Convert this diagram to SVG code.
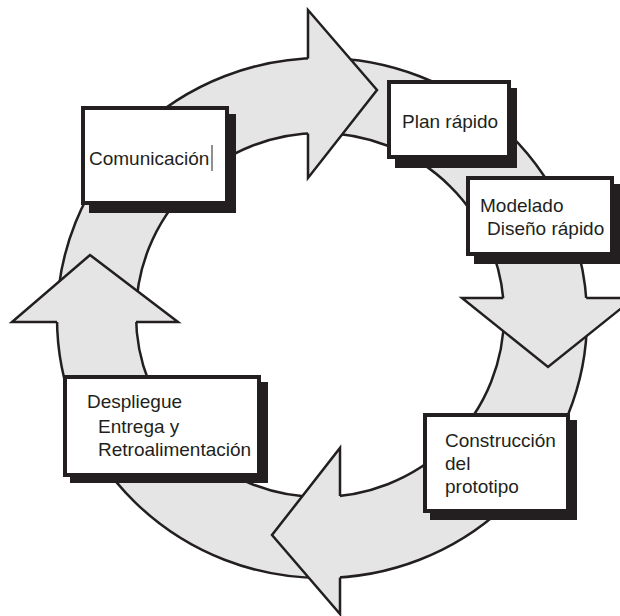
<svg xmlns="http://www.w3.org/2000/svg" width="620" height="616" viewBox="0 0 620 616">
  <style>
    .ring { fill: #e5e5e5; fill-rule: evenodd; stroke: #231f20; stroke-width: 2.5; }
    .head { fill: #e5e5e5; stroke: none; }
    .edge { fill: none; stroke: #231f20; stroke-width: 2.5; stroke-linejoin: miter; stroke-miterlimit: 10; }
    .shadow { fill: #231f20; }
    .box { fill: #ffffff; stroke: #231f20; stroke-width: 4; }
    .label { font-family: "Liberation Sans", Arial, sans-serif; font-size: 19px; fill: #231f20; }
  </style>
  <rect width="620" height="616" fill="#ffffff"/>
  <g id="connectors">
    <path class="ring" d="M 57 318 A 265 260 0 1 0 587 318 A 265 260 0 1 0 57 318 Z M 136 315 A 184 182 0 1 0 504 315 A 184 182 0 1 0 136 315 Z"/>
    <!-- top arrow head (pointing right) -->
    <polygon class="head" points="308,10 377,90 308,178"/>
    <path class="edge" d="M 308 58.4 L 308 10 L 377 90 L 308 178 L 308 133.4"/>
    <!-- right arrow head (pointing down) -->
    <polygon class="head" points="634,298 548,367 462,298"/>
    <path class="edge" d="M 586.2 298 L 634 298 L 548 367 L 462 298 L 503.2 298"/>
    <!-- bottom arrow head (pointing left) -->
    <polygon class="head" points="340,448 272,535 340,614"/>
    <path class="edge" d="M 340 495.9 L 340 448 L 272 535 L 340 614 L 340 577.4"/>
    <!-- left arrow head (pointing up) -->
    <polygon class="head" points="12,322 90,255 178,322"/>
    <path class="edge" d="M 57 322 L 12 322 L 90 255 L 178 322 L 136 322"/>
  </g>
  <g id="comunicacion">
    <rect class="shadow" x="89" y="114" width="147" height="99"/>
    <rect class="box" x="83" y="108" width="144" height="95"/>
    <text class="label" x="89" y="165">Comunicación</text>
    <line x1="212" y1="145" x2="212" y2="171" stroke="#231f20" stroke-width="1"/>
  </g>
  <g id="plan-rapido">
    <rect class="shadow" x="395" y="88" width="122" height="80"/>
    <rect class="box" x="389" y="82" width="120" height="75"/>
    <text class="label" x="402" y="128">Plan rápido</text>
  </g>
  <g id="modelado">
    <rect class="shadow" x="474" y="184" width="146" height="80"/>
    <rect class="box" x="468" y="178" width="144" height="76"/>
    <text class="label" x="480" y="212">Modelado</text>
    <text class="label" x="487" y="235">Diseño rápido</text>
  </g>
  <g id="despliegue">
    <rect class="shadow" x="70" y="382" width="198" height="101"/>
    <rect class="box" x="65" y="377" width="194" height="98"/>
    <text class="label" x="87" y="408">Despliegue</text>
    <text class="label" x="98" y="433">Entrega y</text>
    <text class="label" x="98" y="456">Retroalimentación</text>
  </g>
  <g id="construccion">
    <rect class="shadow" x="430" y="420" width="147" height="100"/>
    <rect class="box" x="425" y="415" width="143" height="96"/>
    <text class="label" x="445" y="447">Construcción</text>
    <text class="label" x="445" y="470">del</text>
    <text class="label" x="445" y="493">prototipo</text>
  </g>
</svg>
